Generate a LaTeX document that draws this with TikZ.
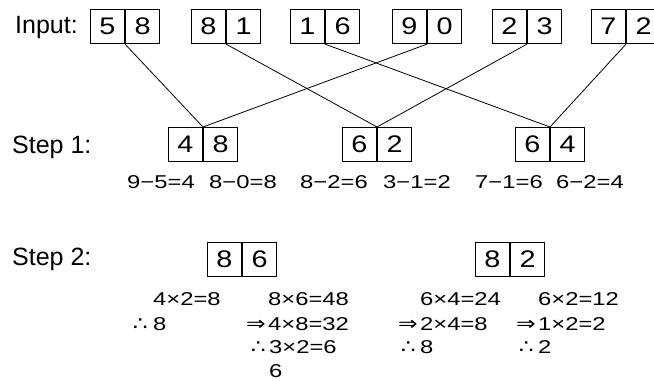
\documentclass[tikz,border=0pt]{standalone}
\usepackage{fontspec}
\setmainfont{Liberation Sans}
\newfontfamily\eqfont[FakeStretch=1.28]{Liberation Sans}
\newfontfamily\cellfont[FakeStretch=1.2]{Liberation Sans}
\newfontfamily\symfont[FakeStretch=1.2]{DejaVu Sans}
\begin{document}
\begin{tikzpicture}[x=1pt,y=-1pt,
  cell/.style={draw,line width=1.1pt,minimum width=34pt,minimum height=34pt,inner sep=0pt,font=\fontsize{24}{24}\cellfont,fill=white},
  lab/.style={anchor=base west,inner sep=0pt,font=\fontsize{25}{25}\selectfont},
  eq/.style={inner sep=0pt,font=\fontsize{18.6}{18.6}\eqfont},
  pre/.style={anchor=base east,inner sep=0pt,font=\fontsize{19.5}{19.5}\symfont},
  link/.style={line width=0.8pt}]
\useasboundingbox (0,0) rectangle (654,381);
\clip (0,0) rectangle (654,381);
% labels
\node[lab] (lin) at (15,33) {Input:};
\node[lab] (ls1) at (12,153) {Step 1:};
\node[lab] (ls2) at (12,265) {Step 2:};
% input boxes (divider x, top y = 9)
\foreach \n/\d/\a/\b in {1/125/5/8,2/226/8/1,3/325/1/6,4/427/9/0,5/527/2/3,6/626/7/2}{
  \node[cell,anchor=north east] (i\n a) at (\d,9) {\a};
  \node[cell,anchor=north west] (i\n b) at (\d,9) {\b};
}
% step 1 boxes
\foreach \n/\d/\a/\b in {1/203/4/8,2/377/6/2,3/550/6/4}{
  \node[cell,anchor=north east] (s\n a) at (\d,127) {\a};
  \node[cell,anchor=north west] (s\n b) at (\d,127) {\b};
}
% step 2 boxes
\foreach \n/\d/\a/\b in {1/242/8/6,2/510/8/2}{
  \node[cell,anchor=north east] (t\n a) at (\d,242) {\a};
  \node[cell,anchor=north west] (t\n b) at (\d,242) {\b};
}
% connectors
\draw[link] (i1a.south east) -- (s1a.north east);
\draw[link] (i4a.south east) -- (s1a.north east);
\draw[link] (i2a.south east) -- (s2a.north east);
\draw[link] (i5a.south east) -- (s2a.north east);
\draw[link] (i3a.south east) -- (s3a.north east);
\draw[link] (i6a.south east) -- (s3a.north east);
% step 1 equations
\foreach \n/\x/\t in {1/161/9−5=4,2/243/8−0=8,3/334/8−2=6,4/417/3−1=2,5/509/7−1=6,6/590/6−2=4}{
  \node[eq,anchor=base] (e\n) at (\x,188) {\t};
}
% step 2 working
\node[eq,anchor=base west] (c1l1) at (153,305) {4×2=8};
\node[eq,anchor=base west] (c1l2) at (153,330) {8};
\node[pre] (c1p2) at (148,330) {∴};
\node[eq,anchor=base west] (c2l1) at (268,305) {8×6=48};
\node[eq,anchor=base west] (c2l2) at (268,330) {4×8=32};
\node[pre] (c2p2) at (266,330) {⇒};
\node[eq,anchor=base west] (c2l3) at (269,353) {3×2=6};
\node[pre] (c2p3) at (266,353) {∴};
\node[eq,anchor=base west] (c2l4) at (269,377) {6};
\node[eq,anchor=base west] (c3l1) at (420,305) {6×4=24};
\node[eq,anchor=base west] (c3l2) at (420,330) {2×4=8};
\node[pre] (c3p2) at (418,330) {⇒};
\node[eq,anchor=base west] (c3l3) at (420,353) {8};
\node[pre] (c3p3) at (416,353) {∴};
\node[eq,anchor=base west] (c4l1) at (538,305) {6×2=12};
\node[eq,anchor=base west] (c4l2) at (538,330) {1×2=2};
\node[pre] (c4p2) at (536,330) {⇒};
\node[eq,anchor=base west] (c4l3) at (538,353) {2};
\node[pre] (c4p3) at (534,353) {∴};
\end{tikzpicture}
\end{document}
